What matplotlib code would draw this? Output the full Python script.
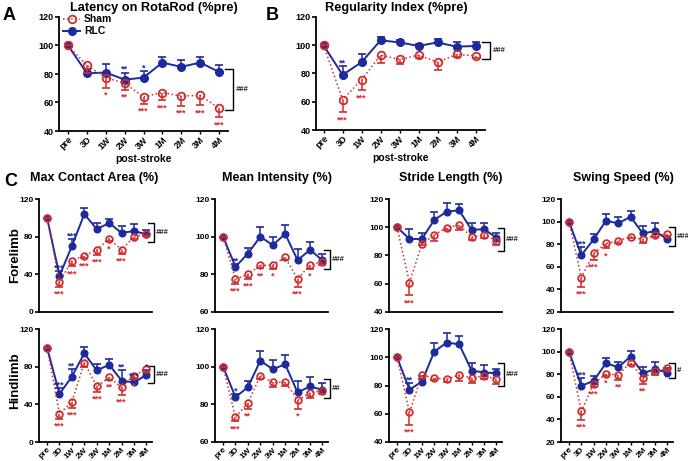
import matplotlib
matplotlib.use("Agg")
import matplotlib.pyplot as plt
import matplotlib.transforms as mtransforms

plt.rcParams['font.family'] = ['Liberation Sans', 'DejaVu Sans']
plt.rcParams['font.weight'] = 'bold'

BLUE = '#1c2a9c'
RED = '#cf2e2e'

timepoints = ['pre', '3D', '1W', '2W', '3W', '1M', '2M', '3M', '4M']

# ---- Panel A: Latency on RotaRod ----
rota_rlc = [100, 80.5, 81, 76, 77.5, 88, 85, 88, 81.5]
rota_rlc_err = [0, 3, 6, 5, 4.5, 4, 4.5, 4, 4.5]
rota_sham = [100, 86, 77.5, 73.5, 64, 67, 64.5, 65, 56]
rota_sham_err = [0, 5, 7, 4.5, 5, 5.5, 7, 7, 6.5]
rota_rlc_stars = ['', '', '', '**', '*', '', '', '', '']
rota_sham_stars = ['', '', '*', '**', '***', '***', '***', '***', '***']

# ---- Panel B: Regularity Index ----
reg_rlc = [100, 79, 88, 103.5, 102, 99.5, 102, 99, 99.5]
reg_rlc_err = [0, 6.5, 6, 2.5, 1.5, 1.5, 2.5, 3, 3]
reg_sham = [100, 61.5, 75.5, 93, 90, 93, 88, 93.5, 92.5]
reg_sham_err = [0, 9, 7.5, 5.5, 3, 2, 5.5, 1.5, 1.5]
reg_rlc_stars = ['', '**', '', '', '', '', '', '', '']
reg_sham_stars = ['', '***', '***', '', '', '', '', '', '']

# ---- Panel C, Forelimb ----
fmca_rlc = [100, 38.5, 70, 104, 88, 94.5, 84, 86, 82.5]
fmca_rlc_err = [0, 5, 7, 6, 6, 4, 7.5, 7, 5]
fmca_sham = [100, 31.5, 54.5, 60, 66, 78, 66, 80, 83]
fmca_sham_err = [0, 5, 6, 3, 5, 3, 4, 2, 2]
fmca_rlc_stars = ['', '***', '***', '', '', '', '', '', '']
fmca_sham_stars = ['', '***', '***', '***', '***', '*', '***', '', '']

fmi_rlc = [100, 84, 91, 100, 95.5, 101.5, 87.5, 93, 87.5]
fmi_rlc_err = [0, 1.5, 3, 5, 4.5, 4.5, 5.7, 4.4, 3.5]
fmi_sham = [100, 77.5, 80, 84.7, 85, 89, 77.5, 85, 86.8]
fmi_sham_err = [0, 2.5, 2.5, 1.5, 2, 1.6, 4, 2, 2]
fmi_rlc_stars = ['', '**', '', '', '', '', '', '', '']
fmi_sham_stars = ['', '***', '***', '**', '*', '', '***', '*', '']

fsl_rlc = [100, 91.7, 91.7, 105.3, 111, 112, 98.2, 98.6, 92.7]
fsl_rlc_err = [0, 7, 4.5, 5.5, 6, 4.7, 5, 4.5, 3.5]
fsl_sham = [100, 60.7, 88.2, 94.6, 99.8, 101.7, 93, 94.6, 90.6]
fsl_sham_err = [0, 9, 1, 4, 2, 3.5, 2, 2.5, 3]
fsl_rlc_stars = ['', '', '', '', '', '', '', '', '']
fsl_sham_stars = ['', '***', '', '', '', '', '', '', '']

fss_rlc = [100, 70.3, 84.2, 100.8, 98.4, 104.3, 89.5, 91.6, 84.2]
fss_rlc_err = [0, 7.5, 5, 5.5, 5.5, 5, 6.5, 7, 2.5]
fss_sham = [100, 50.5, 71.8, 80.7, 83, 86.6, 84.2, 88, 88.6]
fss_sham_err = [0, 8, 5.5, 4.5, 1.5, 1.5, 3, 1.5, 1.5]
fss_rlc_stars = ['', '***', '', '', '', '', '', '', '']
fss_sham_stars = ['', '***', '***', '*', '', '', '', '', '']

# ---- Panel C, Hindlimb ----
hmca_rlc = [100, 51, 69.5, 94.2, 76, 82, 65.3, 63.2, 71.3]
hmca_rlc_err = [0, 6, 8, 6.5, 7, 6.3, 11, 4, 5]
hmca_sham = [100, 30, 42.4, 84.4, 59, 68.5, 58, 70.6, 77.3]
hmca_sham_err = [0, 5.7, 6, 5, 5.4, 2.5, 8, 3, 2.5]
hmca_rlc_stars = ['', '***', '**', '', '', '', '**', '***', '*']
hmca_sham_stars = ['', '***', '***', '', '***', '**', '***', '*', '']

hmi_rlc = [100, 83.8, 89.1, 103.2, 98.6, 101.3, 86.3, 89.5, 87.7]
hmi_rlc_err = [0, 1.5, 3.5, 5.2, 5, 4.7, 6.2, 5, 3.5]
hmi_sham = [100, 73.2, 80.6, 95.3, 91.6, 91.8, 82.4, 86, 87.2]
hmi_sham_err = [0, 2.3, 3.2, 2, 2.5, 2.3, 5, 2.5, 1.5]
hmi_rlc_stars = ['', '*', '', '', '', '', '', '', '']
hmi_sham_stars = ['', '***', '**', '', '', '', '*', '', '']

hsl_rlc = [100, 77, 82.8, 104, 110.4, 109.2, 90.6, 89.2, 88.7]
hsl_rlc_err = [0, 5, 1.5, 6.4, 7, 5.8, 5.2, 5.4, 3.3]
hsl_sham = [100, 61, 87.5, 85.2, 84.5, 87.5, 85.2, 86.8, 84.5]
hsl_sham_err = [0, 9, 1, 1.2, 1.7, 4, 3.6, 2.3, 3.5]
hsl_rlc_stars = ['', '**', '', '', '', '', '', '', '']
hsl_sham_stars = ['', '***', '', '', '', '', '', '', '']

hss_rlc = [100, 69.7, 74.1, 89.7, 86.2, 95.6, 80.9, 84.4, 81.5]
hss_rlc_err = [0, 6.8, 4.7, 4.4, 5, 5.3, 5.3, 6.8, 3.8]
hss_sham = [100, 47, 71.5, 80.3, 79.4, 90.3, 76.5, 82.4, 85.3]
hss_sham_err = [0, 7.3, 2.4, 1.8, 4.4, 2, 5, 3, 1.5]
hss_rlc_stars = ['', '***', '', '', '', '', '', '', '']
hss_sham_stars = ['', '***', '***', '*', '**', '', '**', '', '']

W, H = 688, 461
fig = plt.figure(figsize=(W / 100, H / 100), dpi=100)


def px_axes(left, top, right, bottom):
    return fig.add_axes([left / W, 1 - bottom / H, (right - left) / W, (bottom - top) / H])


def draw_panel(ax, rlc, rlc_err, sham, sham_err, rlc_stars, sham_stars,
               ylim, yticks, bracket, sig, xlim, show_xt, big=False,
               br_x=(0.98, 1.02), sig_x=1.04):
    x = list(range(len(timepoints)))
    ms = 5.5 if big else 4.8
    capw = 6 if big else 5.5
    # RLC (blue, solid, filled, upward error)
    ax.vlines(x, rlc, [v + e for v, e in zip(rlc, rlc_err)], color=BLUE, lw=1.1, zorder=2)
    ax.plot(x, [v + e for v, e in zip(rlc, rlc_err)], ls='none', marker='_',
            ms=capw, mew=1.2, color=BLUE, zorder=2)
    ax.plot(x, rlc, '-', color=BLUE, lw=1.4, marker='o', ms=ms,
            mfc=BLUE, mec=BLUE, zorder=3, label='RLC')
    # Sham (red, dotted, open, downward error)
    ax.vlines(x, [v - e for v, e in zip(sham, sham_err)], sham, color=RED, lw=1.1, zorder=4)
    ax.plot(x, [v - e for v, e in zip(sham, sham_err)], ls='none', marker='_',
            ms=capw, mew=1.2, color=RED, zorder=4)
    ax.plot(x, sham, ':', color=RED, lw=1.1, marker='o', ms=ms,
            mfc='none', mec=RED, mew=1.3, zorder=5, label='Sham')
    fs_star = 6.5
    for i, s in enumerate(rlc_stars):
        if s:
            ax.annotate(s, (i, rlc[i] + rlc_err[i]), xytext=(0, -1), textcoords='offset points',
                        ha='center', va='bottom', color=BLUE, fontsize=fs_star, zorder=6)
    for i, s in enumerate(sham_stars):
        if s:
            ax.annotate(s, (i, sham[i] - sham_err[i]), xytext=(0, -2), textcoords='offset points',
                        ha='center', va='top', color=RED, fontsize=fs_star, zorder=6)
    ax.set_ylim(*ylim)
    ax.set_yticks(yticks)
    ax.set_xlim(*xlim)
    ax.set_xticks(x)
    for sp in ['top', 'right']:
        ax.spines[sp].set_visible(False)
    for sp in ['left', 'bottom']:
        ax.spines[sp].set_linewidth(1.3)
    ax.tick_params(axis='y', length=3, width=1.2, labelsize=6.5 if big else 6, pad=1)
    if show_xt:
        ax.set_xticklabels(timepoints, rotation=45, ha='right', rotation_mode='anchor',
                           fontsize=6.5 if big else 6, fontweight='bold')
        ax.tick_params(axis='x', length=2, width=1.0, pad=1)
    else:
        ax.set_xticklabels([])
        ax.tick_params(axis='x', length=0)
    for lbl in ax.get_yticklabels():
        lbl.set_fontweight('bold')
    # bracket
    tr = mtransforms.blended_transform_factory(ax.transAxes, ax.transData)
    b0, b1 = bracket
    ax.plot([br_x[0], br_x[1], br_x[1], br_x[0]], [b1, b1, b0, b0], color='black',
            lw=1.0, transform=tr, clip_on=False)
    ax.text(sig_x, (b0 + b1) / 2, sig, transform=tr, ha='left', va='center',
            fontsize=5.5, fontstyle='italic', color='#222222')


# ---- Panel A ----
axA = px_axes(59, 17, 228, 131)
draw_panel(axA, rota_rlc, rota_rlc_err, rota_sham, rota_sham_err, rota_rlc_stars,
           rota_sham_stars, (40, 120), [40, 60, 80, 100, 120], (55, 83.5), '###',
           (-0.48, 8.48), True, big=True, br_x=(0.985, 1.03), sig_x=1.045)
axA.set_xlabel('post-stroke', fontsize=7.5, fontweight='bold', labelpad=2)
h, l = axA.get_legend_handles_labels()
axA.legend([h[1], h[0]], [l[1], l[0]], loc='upper left', bbox_to_anchor=(0.0, 1.06),
           frameon=False, fontsize=7.5, handlelength=1.6, handletextpad=0.4,
           labelspacing=0.2, borderaxespad=0)
fig.text(154 / W, 1 - 8 / H, 'Latency on RotaRod (%pre)', ha='center', va='center',
         fontsize=9.2, fontweight='bold')
fig.text(3 / W, 1 - 15 / H, 'A', ha='left', va='center', fontsize=13, fontweight='bold')

# ---- Panel B ----
axB = px_axes(316, 17, 485, 130)
draw_panel(axB, reg_rlc, reg_rlc_err, reg_sham, reg_sham_err, reg_rlc_stars,
           reg_sham_stars, (40, 120), [40, 60, 80, 100, 120], (90, 102), '###',
           (-0.4, 8.5), True, big=True, br_x=(0.985, 1.03), sig_x=1.045)
axB.set_xlabel('post-stroke', fontsize=7.5, fontweight='bold', labelpad=2)
fig.text(396 / W, 1 - 8 / H, 'Regularity Index (%pre)', ha='center', va='center',
         fontsize=9.2, fontweight='bold')
fig.text(266 / W, 1 - 15 / H, 'B', ha='left', va='center', fontsize=13, fontweight='bold')

# ---- Panel C ----
fig.text(4 / W, 1 - 181 / H, 'C', ha='left', va='center', fontsize=13, fontweight='bold')
col_px = [(39, 152), (215, 328), (389, 502), (561, 673)]
titles = ['Max Contact Area (%)', 'Mean Intensity (%)', 'Stride Length (%)', 'Swing Speed (%)']
title_x = [94, 277, 451, 623]
ylims = [(0, 120), (60, 120), (40, 120), (20, 120)]
yticks_list = [[0, 40, 80, 120], [60, 80, 100, 120], [40, 60, 80, 100, 120],
               [20, 40, 60, 80, 100, 120]]

fore = [
    (fmca_rlc, fmca_rlc_err, fmca_sham, fmca_sham_err, fmca_rlc_stars, fmca_sham_stars, (74, 94), '###'),
    (fmi_rlc, fmi_rlc_err, fmi_sham, fmi_sham_err, fmi_rlc_stars, fmi_sham_stars, (83, 93), '###'),
    (fsl_rlc, fsl_rlc_err, fsl_sham, fsl_sham_err, fsl_rlc_stars, fsl_sham_stars, (83.5, 99.5), '###'),
    (fss_rlc, fss_rlc_err, fss_sham, fss_sham_err, fss_rlc_stars, fss_sham_stars, (78.5, 95), '###'),
]
hind = [
    (hmca_rlc, hmca_rlc_err, hmca_sham, hmca_sham_err, hmca_rlc_stars, hmca_sham_stars, (63, 81), '###'),
    (hmi_rlc, hmi_rlc_err, hmi_sham, hmi_sham_err, hmi_rlc_stars, hmi_sham_stars, (83.3, 93.4), '##'),
    (hsl_rlc, hsl_rlc_err, hsl_sham, hsl_sham_err, hsl_rlc_stars, hsl_sham_stars, (79.3, 96.2), '###'),
    (hss_rlc, hss_rlc_err, hss_sham, hss_sham_err, hss_rlc_stars, hss_sham_stars, (76.5, 90.3), '#'),
]

for row, (data, top, bot) in enumerate([(fore, 199, 312), (hind, 329, 442)]):
    for c in range(4):
        l, r = col_px[c]
        ax = px_axes(l, top, r, bot)
        d = data[c]
        draw_panel(ax, d[0], d[1], d[2], d[3], d[4], d[5], ylims[c], yticks_list[c],
                   d[6], d[7], (-0.65, 8.45), row == 1, br_x=(0.965, 1.015), sig_x=1.03)
        if row == 0:
            fig.text(title_x[c] / W, 1 - 178 / H, titles[c], ha='center', va='center',
                     fontsize=9, fontweight='bold')

fig.text(15 / W, 1 - 255 / H, 'Forelimb', rotation=90, ha='center', va='center',
         fontsize=9.5, fontweight='bold')
fig.text(15 / W, 1 - 381 / H, 'Hindlimb', rotation=90, ha='center', va='center',
         fontsize=9.5, fontweight='bold')

fig.savefig('out.png', dpi=100)
